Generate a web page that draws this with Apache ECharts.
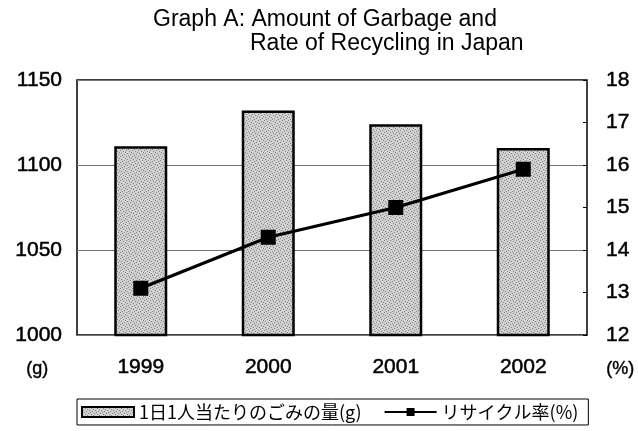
<!DOCTYPE html>
<html>
<head>
<meta charset="utf-8">
<script src="https://cdn.jsdelivr.net/npm/echarts@6/dist/echarts.min.js"></script>
<style>
  html, body { margin: 0; padding: 0; background: #fff; }
  #main { width: 638px; height: 431px; }
</style>
</head>
<body>
<div id="main"></div>
<script>
// 年
var years = ['1999', '2000', '2001', '2002']
// 1日1人当たりのごみの量(g)
var garbage = [1111, 1132, 1124, 1110]
// リサイクル率(%)
var recycle = [13.1, 14.3, 15.0, 15.9]

var FONT = '"Liberation Sans", "Noto Sans CJK JP", sans-serif'

// 棒の網目っぽい塗り
function makePattern() {
  var c = document.createElement('canvas')
  c.width = 6
  c.height = 6
  var ctx = c.getContext('2d')
  ctx.fillStyle = '#d0d0d0'
  ctx.fillRect(0, 0, 6, 6)
  ctx.fillStyle = '#858585'
  var dots = [[0, 0], [3, 1], [1, 3], [4, 4], [5, 2], [2, 5]]
  dots.forEach(function (d) { ctx.fillRect(d[0], d[1], 1, 1) })
  return c
}

// 軸ラベル共通（少し太めに見せる）
var numLabel = {
  fontFamily: FONT,
  fontSize: 21,
  color: '#000',
  textBorderColor: '#000',
  textBorderWidth: 0.5
}

var myChart = echarts.init(document.getElementById('main'))
var option = {
  backgroundColor: '#fff',
  animation: false,
  title: [
    {
      text: 'Graph A: Amount of Garbage and',
      left: 148,
      top: 3,
      textStyle: { fontFamily: FONT, fontSize: 23, fontWeight: 'normal', color: '#000' }
    },
    {
      text: 'Rate of Recycling in Japan',
      left: 245,
      top: 27,
      textStyle: { fontFamily: FONT, fontSize: 23, fontWeight: 'normal', color: '#000' }
    }
  ],
  grid: {
    left: 77,
    right: 51,
    top: 80,
    bottom: 96,
    show: true,
    borderColor: '#000',
    borderWidth: 1.5,
    backgroundColor: 'transparent'
  },
  legend: {
    left: 77,
    top: 399,
    padding: [4, 10, 4, 4],
    itemGap: 22,
    itemWidth: 52,
    itemHeight: 10,
    borderColor: '#000',
    borderWidth: 1,
    textStyle: { fontFamily: '"Noto Sans CJK JP", sans-serif', fontSize: 18, color: '#000' },
    data: [
      { name: '1日1人当たりのごみの量(g)', icon: 'rect' },
      { name: 'リサイクル率(%)' }
    ]
  },
  xAxis: {
    type: 'category',
    data: years,
    axisLine: { show: false },
    axisTick: { show: false },
    axisLabel: Object.assign({ margin: 22 }, numLabel)
  },
  yAxis: [
    {
      type: 'value',
      min: 1000,
      max: 1150,
      interval: 50,
      axisLine: { show: false },
      axisTick: { show: false },
      axisLabel: Object.assign({
        margin: 15,
        formatter: function (v) { return String(v) }
      }, numLabel),
      splitLine: { lineStyle: { color: '#777', width: 1 } }
    },
    {
      type: 'value',
      min: 12,
      max: 18,
      interval: 1,
      axisLine: { show: false },
      axisTick: { show: true, inside: true, length: 4, lineStyle: { color: '#000' } },
      axisLabel: Object.assign({ margin: 19 }, numLabel),
      splitLine: { show: false }
    }
  ],
  graphic: [
    {
      type: 'text',
      left: 26,
      top: 360,
      style: { text: '(g)', font: '18px ' + FONT, fill: '#000', stroke: '#000', lineWidth: 0.4 }
    },
    {
      type: 'text',
      left: 606,
      top: 360,
      style: { text: '(%)', font: '18px ' + FONT, fill: '#000', stroke: '#000', lineWidth: 0.4 }
    }
  ],
  series: [
    {
      name: '1日1人当たりのごみの量(g)',
      type: 'bar',
      data: garbage,
      barWidth: 53,
      itemStyle: {
        color: { image: makePattern(), repeat: 'repeat' },
        borderColor: '#000',
        borderWidth: 2.5
      }
    },
    {
      name: 'リサイクル率(%)',
      type: 'line',
      yAxisIndex: 1,
      data: recycle,
      symbol: 'rect',
      symbolSize: 15,
      lineStyle: { color: '#000', width: 3 },
      itemStyle: { color: '#000' }
    }
  ]
}
myChart.setOption(option)
</script>
</body>
</html>
